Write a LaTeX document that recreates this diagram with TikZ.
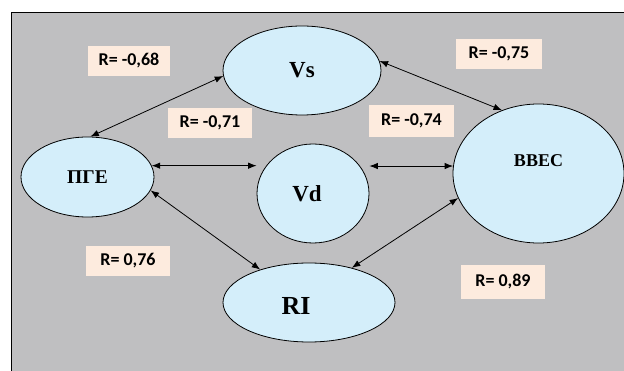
\documentclass[tikz,border=0pt]{standalone}
\usepackage{fontspec}
\setmainfont{Liberation Serif}
\newfontfamily\lblfont{Carlito}
\usetikzlibrary{arrows.meta,shapes.geometric}
\definecolor{panelgray}{RGB}{191,191,193}
\definecolor{ellblue}{RGB}{212,238,250}
\definecolor{boxpeach}{RGB}{253,235,222}
\begin{document}
\begin{tikzpicture}[x=1pt,y=-1pt,
  var/.style={ellipse, draw=black, line width=0.8pt, fill=ellblue, inner sep=0pt},
  rlabel/.style={fill=boxpeach, inner sep=0pt, minimum height=30pt, minimum width=84pt,
                 font=\lblfont\bfseries\fontsize{18}{20}\selectfont},
  link/.style={line width=0.8pt, {Latex[length=8.5pt,width=6.5pt]}-{Latex[length=8.5pt,width=6.5pt]}}]
\useasboundingbox (0,0) rectangle (624,371);
\fill[white] (0,0) rectangle (624,371);
\draw[fill=panelgray, line width=0.8pt] (11.5,12.5) rectangle (650,400);

% variables
\node[var, minimum width=158pt, minimum height=89pt,
      font=\bfseries\fontsize{23}{25}\selectfont] (vs) at (302,70.5) {Vs};
\node[var, minimum width=133pt, minimum height=80pt,
      font=\bfseries\fontsize{19.5}{21}\selectfont] (pge) at (87.5,177) {ПГЕ};
\node[var, minimum width=112pt, minimum height=99pt,
      font=\bfseries\fontsize{23}{25}\selectfont] (vd) at (313,193.5) {\kern-12pt Vd};
\node[var, minimum width=171pt, minimum height=139pt, text height=11.9pt, text depth=26pt,
      font=\bfseries\fontsize{18}{20}\selectfont] (bbec) at (538.5,173.5) {BBEC};
\node[var, minimum width=172pt, minimum height=79pt, text height=24.2pt, text depth=0pt,
      font=\bfseries\fontsize{26}{28}\selectfont] (ri) at (309,302.5) {\kern-26pt RI};

% correlation labels
\node[rlabel, minimum width=82pt] (r68) at (129,61) {R= -0,68};
\node[rlabel] (r71) at (210,123) {R= -0,71};
\node[rlabel, minimum width=86pt] (r75) at (499,54) {R= -0,75};
\node[rlabel, minimum width=85pt, minimum height=32pt] (r74) at (411.5,121) {R= -0,74};
\node[rlabel] (r76) at (128,261) {R= 0,76};
\node[rlabel, minimum height=34pt] (r89) at (503,282) {R= 0,89};

% connectors
\draw[link] (pge.86) -- (vs.184);
\draw[link] (vs.7) -- (bbec.120);
\draw[link] (pge.10) -- (vd.west |- pge.10);
\draw[link] (vd.east |- bbec.175) -- (bbec.175);
\draw[link] (pge.-12) -- (ri.146);
\draw[link] (ri.39) -- (bbec.197);
\end{tikzpicture}
\end{document}
